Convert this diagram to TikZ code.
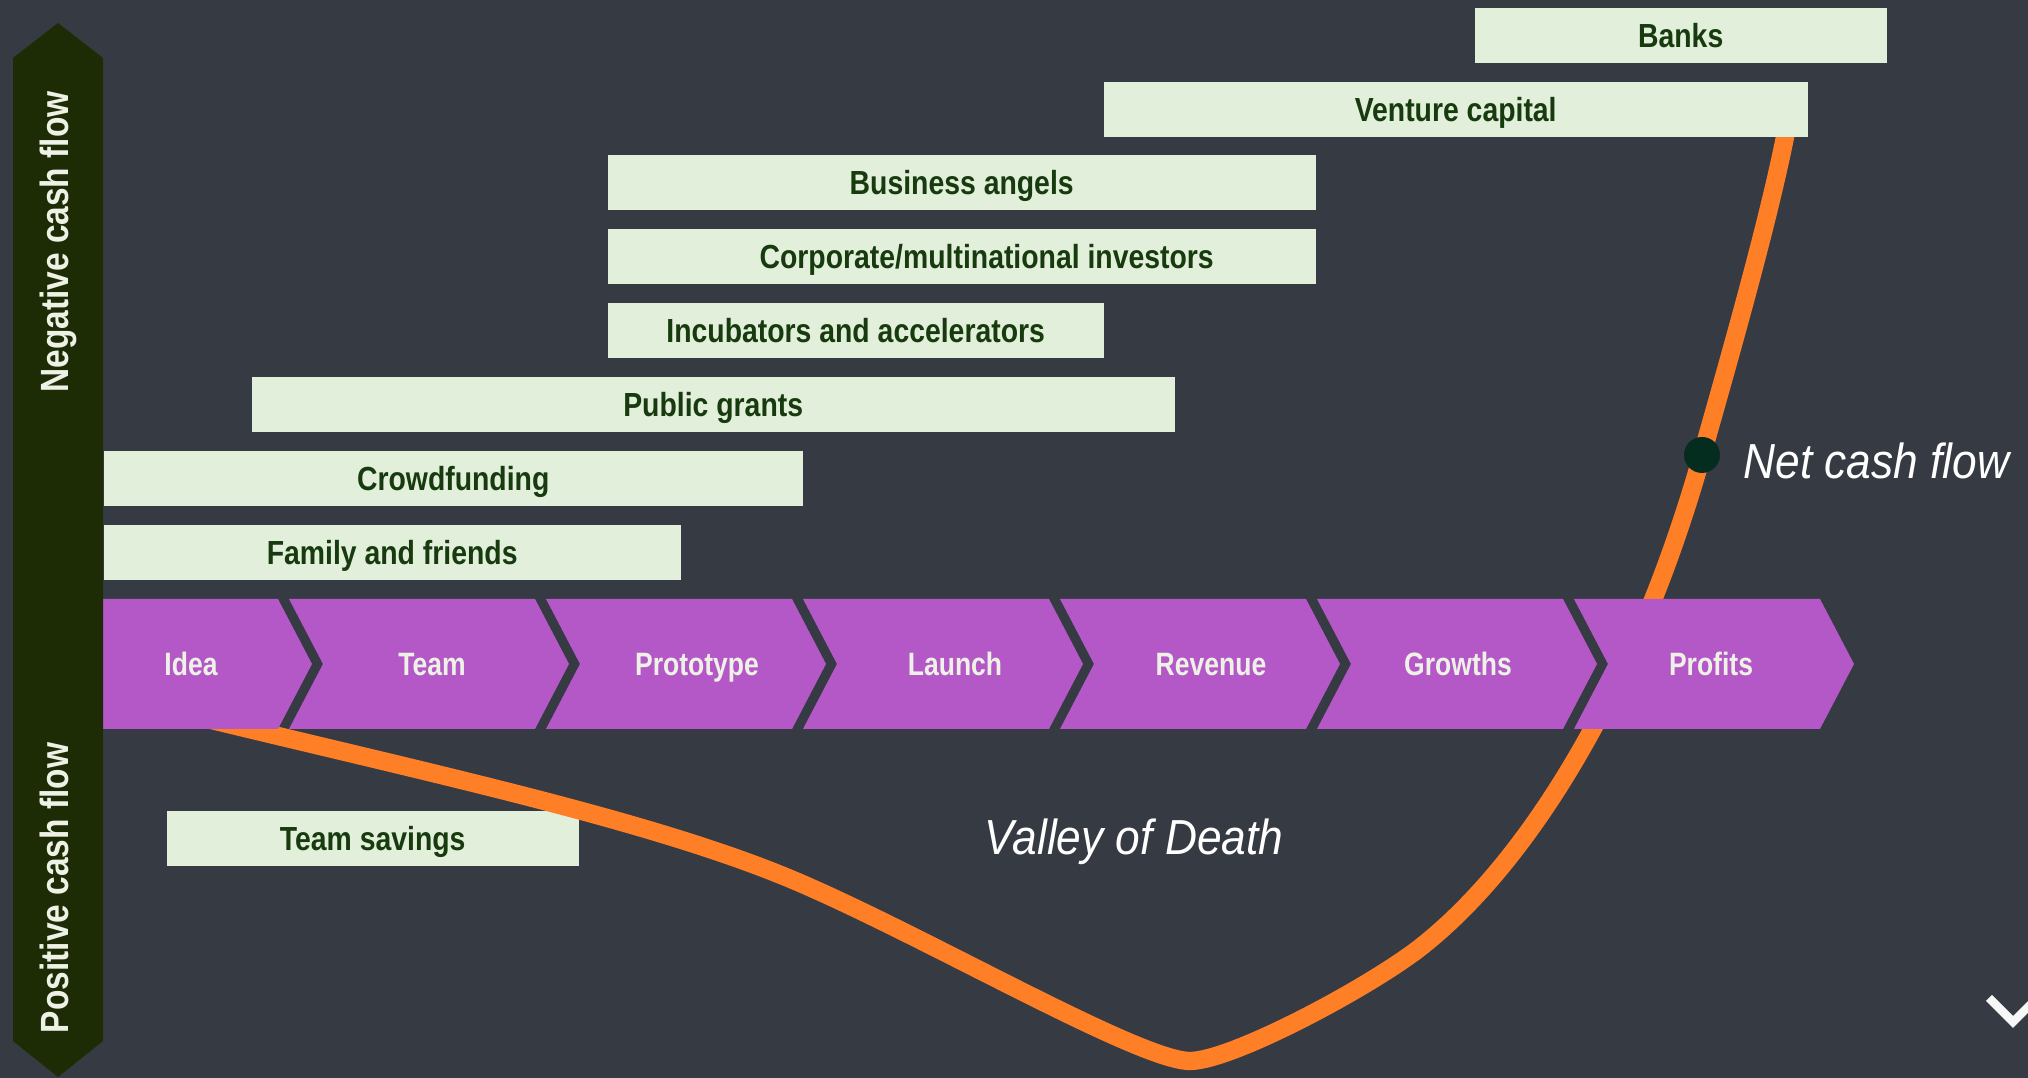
\documentclass[tikz,border=0pt]{standalone}
\usepackage{fontspec}
\setmainfont{Liberation Sans}
\newfontfamily\cnfont[FakeStretch=0.85]{Liberation Sans}
\newfontfamily\stagefont[FakeStretch=0.82]{Liberation Sans}
\newfontfamily\notefont[FakeStretch=0.9]{Liberation Sans}
\usepackage{xcolor}
\usetikzlibrary{positioning,calc}

\definecolor{bgdark}{HTML}{363A43}
\definecolor{stagepurple}{HTML}{B458C7}
\definecolor{stagetext}{HTML}{EEF2E6}
\definecolor{boxfill}{HTML}{E2EFDA}
\definecolor{boxtext}{HTML}{173A0F}
\definecolor{barcol}{HTML}{1D2C05}
\definecolor{cashorange}{HTML}{FF7F27}
\definecolor{dotgreen}{HTML}{052D1F}

\begin{document}
\begin{tikzpicture}[
    fundbox/.style={fill=boxfill, text=boxtext, anchor=west, inner sep=0pt,
      minimum height=0.55cm, text height=6.8pt, text depth=0pt,
      font=\cnfont\bfseries\fontsize{9.5}{11}\selectfont},
    stage/.style={fill=stagepurple},
    stagelabel/.style={text=stagetext, inner sep=0pt, text height=6.6pt, text depth=0pt,
      font=\stagefont\bfseries\fontsize{9.2}{11}\selectfont},
    sidelabel/.style={text=stagetext, rotate=90, inner sep=0pt, text height=8pt, text depth=0pt,
      font=\cnfont\bfseries\fontsize{11.2}{13}\selectfont},
    notelabel/.style={text=white, inner sep=0pt,
      font=\notefont\itshape\fontsize{14}{16}\selectfont},
    cashline/.style={draw=cashorange, line width=5.2pt}
  ]
    \fill[bgdark] (0,0) rectangle (20.28,10.78);
    \useasboundingbox (0,0) rectangle (20.28,10.78);

    % own money sits below the curve
    \node[fundbox, minimum width=4.12cm] (savings) at (1.66,2.395) {Team savings};

    % net cash flow curve
    \coordinate (start) at (1.50,3.73);
    \coordinate (bend) at (8.00,1.95);
    \coordinate (low) at (11.90,0.17);
    \coordinate (climb) at (14.17,1.28);
    \coordinate (netpt) at (17.02,6.23);
    \coordinate (top) at (17.90,9.68);
    \draw[cashline] (start) .. controls (4.00,3.11) and (6.50,2.60) .. (bend)
        .. controls (9.30,1.39) and (11.40,0.17) .. (low)
        .. controls (12.30,0.17) and (13.61,0.86) .. (climb)
        .. controls (15.28,2.13) and (16.37,3.92) .. (netpt)
        .. controls (17.29,7.19) and (17.75,8.78) .. (top);

    % stages
    \foreach \lab/\lx [count=\k from 0] in {Idea/1.91,Team/4.32,Prototype/6.97,
        Launch/9.55,Revenue/12.11,Growths/14.58,Profits/17.11}{
        \pgfmathsetmacro{\tip}{3.12+2.57*\k}
        \pgfmathsetmacro{\prev}{\tip-2.57}
        \fill[stage] ({\prev-0.23},4.79) -- ({\tip-0.34},4.79) -- (\tip,4.14)
            -- ({\tip-0.34},3.49) -- ({\prev-0.23},3.49) -- ({\prev+0.11},4.14) -- cycle;
        \node[stagelabel] (stage-\k) at (\lx,4.14) {\lab};
    }

    % funding sources
    \node[fundbox, minimum width=4.12cm] (banks) at (14.74,10.425) {Banks};
    \node[fundbox, minimum width=7.04cm] (vc) at (11.03,9.685) {Venture capital};
    \node[fundbox, minimum width=7.08cm] (angels) at (6.07,8.95) {Business angels};
    \node[fundbox, minimum width=7.08cm] (corp) at (6.07,8.21) {\hspace{0.5cm}Corporate/multinational investors};
    \node[fundbox, minimum width=4.96cm] (incub) at (6.07,7.475) {Incubators and accelerators};
    \node[fundbox, minimum width=9.23cm] (grants) at (2.51,6.735) {Public grants};
    \node[fundbox, minimum width=6.99cm] (crowd) at (1.03,5.995) {Crowdfunding};
    \node[fundbox, minimum width=5.77cm] (family) at (1.03,5.255) {Family and friends};

    % cash flow axis
    \fill[barcol] (0.13,0.37) -- (0.13,10.20) -- (0.58,10.55) -- (1.03,10.20)
        -- (1.03,0.37) -- (0.58,0.01) -- cycle;
    \node[sidelabel] (neg) at (0.54,8.36) {Negative cash flow};
    \node[sidelabel] (pos) at (0.54,1.90) {Positive cash flow};

    \node[circle, fill=dotgreen, minimum size=0.36cm, inner sep=0pt] (net) at (netpt) {};
    \node[notelabel, right=0.22cm of net, yshift=-0.06cm] (netlabel) {Net cash flow};
    \node[notelabel] (valley) at (11.34,2.36) {Valley of Death};

    % next-slide mark
    \draw[white!94!gray, line width=2.4pt] (19.89,0.80) -- (20.13,0.56) -- (20.32,0.75);
\end{tikzpicture}
\end{document}
